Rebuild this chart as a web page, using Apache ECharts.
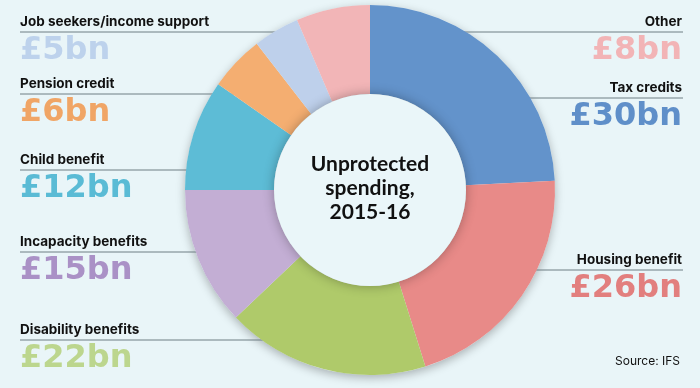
<!DOCTYPE html>
<html>
<head>
<meta charset="utf-8">
<script src="https://cdn.jsdelivr.net/npm/echarts@6/dist/echarts.min.js"></script>
<style>
  html, body { margin: 0; padding: 0; background: #E9F5F8; }
  #chart { width: 700px; height: 388px; }
</style>
</head>
<body>
<div id="chart"></div>
<script>
// ---- data ----
const categories = ['Tax credits', 'Housing benefit', 'Disability benefits', 'Incapacity benefits',
                    'Child benefit', 'Pension credit', 'Job seekers/income support', 'Other'];
const values = [30, 26, 22, 15, 12, 6, 5, 8];
const valueLabels = ['£30bn', '£26bn', '£22bn', '£15bn', '£12bn', '£6bn', '£5bn', '£8bn'];
const centerTitle = ['Unprotected', 'spending,', '2015-16'];
const sourceText = 'Source: IFS';

// ---- styles / layout ----
const sliceColors = ['#6393CB', '#E88A88', '#AFCA6A', '#C3AED4', '#5DBCD6', '#F4AE71', '#BED0EB', '#F2B5B7'];
const valueColors = ['#5F8FC9', '#E27F7E', '#BCD68E', '#AA91C6', '#5ABBD5', '#F0A566', '#BDD2EC', '#F2B4B6'];
const labelSide = ['right', 'right', 'left', 'left', 'left', 'left', 'left', 'right'];
const lineY = [98, 270, 340, 252, 170, 94, 32, 32];
const lineInnerX = [473, 473, 303, 244, 236, 262, 287, 338];
const LEFT_X = 20, RIGHT_X = 683;
const CX = 370, CY = 190, R_OUT = 185, R_IN = 96;

const chart = echarts.init(document.getElementById('chart'), null, { renderer: 'canvas' });

const pieData = categories.map((name, i) => ({
  name: name,
  value: values[i],
  itemStyle: { color: sliceColors[i] },
  label: {
    formatter: '{n|' + name + '}\n{v|' + valueLabels[i] + '}',
    rich: {
      n: { fontFamily: 'Inter', fontWeight: 700, fontSize: 13.5, color: '#111', lineHeight: 20, align: labelSide[i] },
      v: { fontFamily: 'DejaVu Sans', fontWeight: 'bold', fontSize: 32, color: valueColors[i], lineHeight: 38, align: labelSide[i] }
    }
  }
}));

const option = {
  backgroundColor: '#E9F5F8',
  animation: false,
  series: [
    {
      // soft shadow ring underneath
      type: 'pie',
      silent: true,
      z: 1,
      center: [CX, CY],
      radius: [R_IN, R_OUT],
      label: { show: false },
      labelLine: { show: false },
      emphasis: { disabled: true },
      data: [{ value: 1, name: '', itemStyle: { color: '#E9F5F8', shadowBlur: 10, shadowColor: 'rgba(0,0,0,0.28)', shadowOffsetY: 3 } }]
    },
    {
      type: 'pie',
      z: 2,
      center: [CX, CY],
      radius: [R_IN, R_OUT],
      startAngle: 90,
      clockwise: true,
      avoidLabelOverlap: false,
      itemStyle: { borderWidth: 0 },
      emphasis: { disabled: true },
      label: { show: true, position: 'outside' },
      labelLine: { show: true, lineStyle: { color: '#6E7E84', width: 1 } },
      labelLayout: function (p) {
        const i = p.dataIndex;
        const y = lineY[i];
        if (labelSide[i] === 'left') {
          return {
            x: LEFT_X, y: y - 20, align: 'left', verticalAlign: 'top',
            labelLinePoints: [[LEFT_X, y], [lineInnerX[i], y], [lineInnerX[i], y]]
          };
        }
        return {
          x: RIGHT_X - 1, y: y - 20, align: 'right', verticalAlign: 'top',
          labelLinePoints: [[RIGHT_X, y], [lineInnerX[i], y], [lineInnerX[i], y]]
        };
      },
      data: pieData
    },
    {
      // centre disc
      type: 'pie',
      silent: true,
      z: 3,
      center: [CX, CY],
      radius: [0, R_IN],
      label: { show: false },
      labelLine: { show: false },
      emphasis: { disabled: true },
      data: [{ value: 1, name: '', itemStyle: { color: '#EAF6F9', shadowBlur: 12, shadowColor: 'rgba(0,0,0,0.30)' } }]
    }
  ],
  graphic: [
    {
      type: 'text',
      z: 100,
      x: CX, y: CY - 38,
      style: {
        text: centerTitle.join('\n'),
        fill: '#111',
        font: 'bold 21px Lato',
        lineHeight: 24,
        textAlign: 'center',
        align: 'center',
        verticalAlign: 'top'
      }
    },
    {
      type: 'text',
      right: 20, top: 355,
      style: { text: sourceText, fill: '#111', font: '12px Inter' }
    }
  ]
};
chart.setOption(option);
</script>
</body>
</html>
